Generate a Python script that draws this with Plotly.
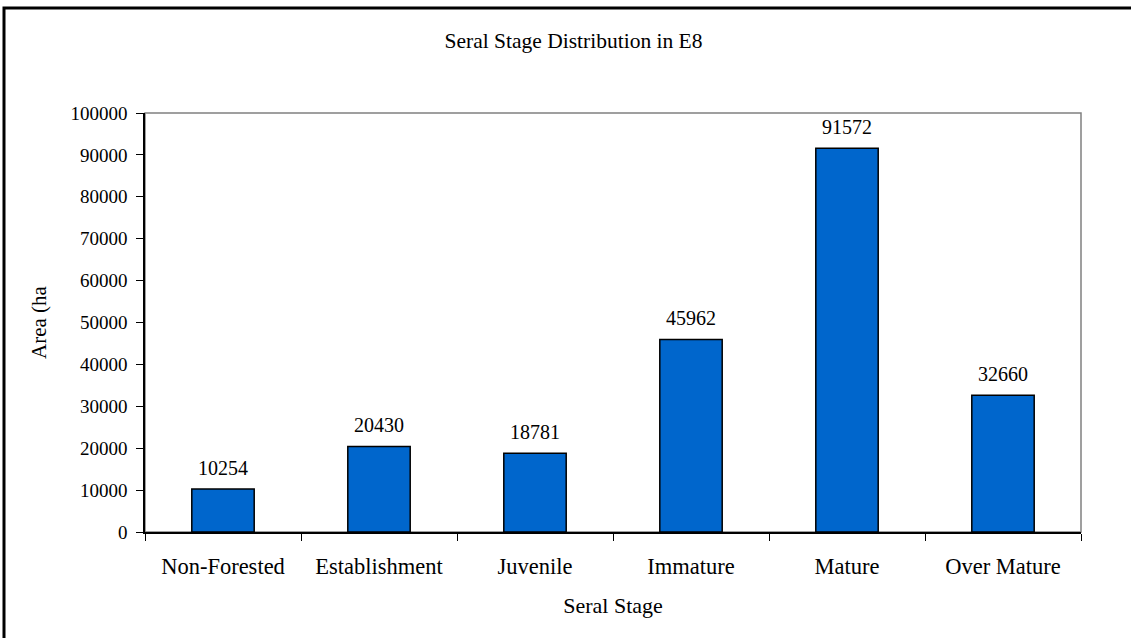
import plotly.graph_objects as go

# Seral stage areas (ha)
stages = ["Non-Forested", "Establishment", "Juvenile", "Immature", "Mature", "Over Mature"]
areas = [10254, 20430, 18781, 45962, 91572, 32660]
y_ticks = [0, 10000, 20000, 30000, 40000, 50000, 60000, 70000, 80000, 90000, 100000]

FONT = "Liberation Serif, Times New Roman, serif"
W, H = 1131, 638
L, R, T, B = 145, 50, 113, 106
pw, ph = W - L - R, H - T - B

fig = go.Figure()
fig.add_trace(go.Bar(
    x=stages, y=areas,
    marker=dict(color="#0066CC", line=dict(color="#000000", width=1.5)),
    hoverinfo="x+y",
))

# value labels above each bar
for s, v in zip(stages, areas):
    fig.add_annotation(x=s, y=v, text=str(v), showarrow=False,
                       yanchor="bottom", yshift=8,
                       font=dict(family=FONT, size=20, color="#000000"))

# plot-area frame (grey) and outer chart frame (black)
fig.add_shape(type="rect", xref="paper", yref="paper", x0=0, x1=1, y0=0, y1=1,
              line=dict(color="#808080", width=1.5), layer="below")
fig.add_shape(type="rect", xref="paper", yref="paper",
              x0=(4 - L) / pw, x1=(W + 10 - L) / pw,
              y0=(H - B - (H + 10)) / ph, y1=(H - B - 8) / ph,
              line=dict(color="#000000", width=3), layer="below")

fig.update_layout(
    width=W, height=H,
    margin=dict(l=L, r=R, t=T, b=B),
    paper_bgcolor="white", plot_bgcolor="white",
    font=dict(family=FONT, color="#000000"),
    title=dict(text="Seral Stage Distribution in E8", x=573.5 / W,
               xanchor="center", y=1 - 40 / H, yanchor="middle", yref="container",
               font=dict(family=FONT, size=21.5, color="#000000")),
    bargap=0.6,
    showlegend=False,
)
fig.update_xaxes(
    type="category", showline=True, linecolor="#000000", linewidth=1.5,
    ticks="outside", tickson="boundaries", ticklen=7, tickcolor="#000000", tickwidth=1,
    showgrid=False, ticklabelstandoff=13,
    tickfont=dict(family=FONT, size=22.5, color="#000000"),
    title=dict(text="Seral Stage", standoff=20, font=dict(family=FONT, size=22, color="#000000")),
)
fig.update_yaxes(
    range=[0, 100000], tickvals=y_ticks, ticktext=[str(t) for t in y_ticks],
    showline=True, linecolor="#000000", linewidth=1.5,
    ticks="outside", ticklen=7, tickcolor="#000000", tickwidth=1,
    showgrid=False, zeroline=False, ticklabelstandoff=5,
    tickfont=dict(family=FONT, size=19, color="#000000"),
    title=dict(text="Area (ha", standoff=18, font=dict(family=FONT, size=21, color="#000000")),
)

fig.write_html("out.html")
